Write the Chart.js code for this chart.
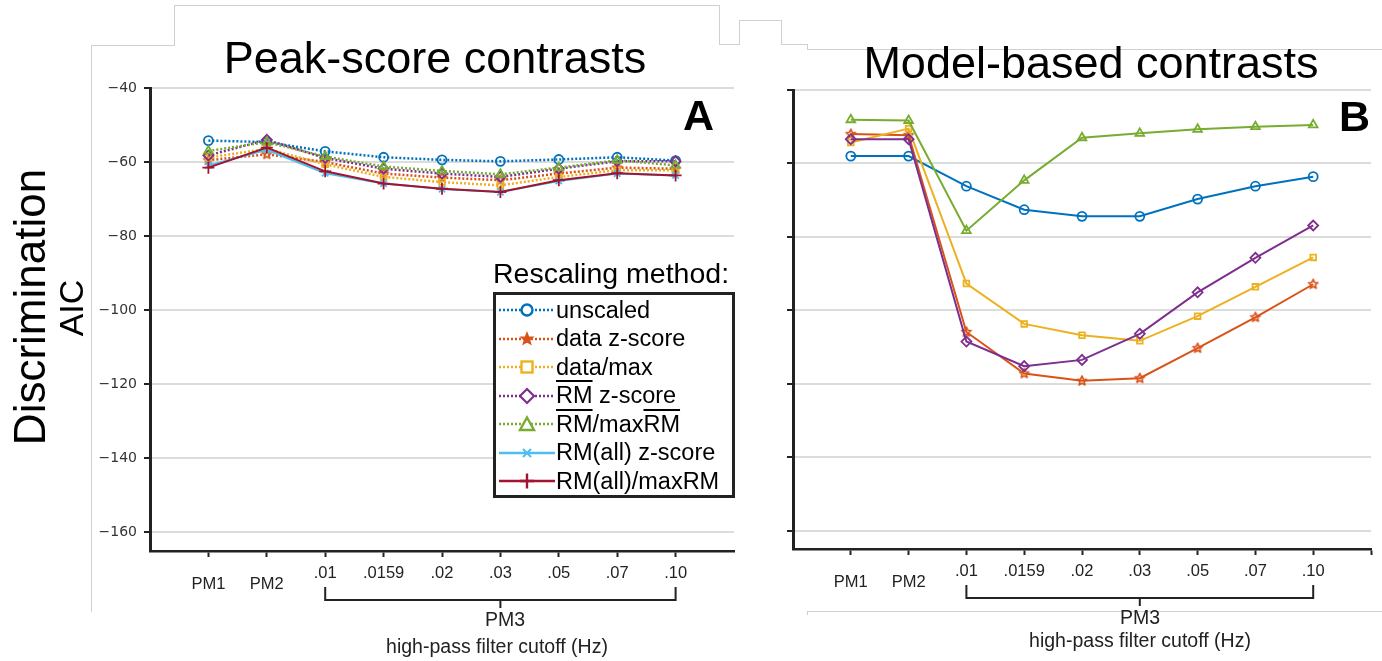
<!DOCTYPE html>
<html>
<head>
<meta charset="utf-8">
<script src="https://cdn.jsdelivr.net/npm/chart.js@4.4.1/dist/chart.umd.min.js"></script>
<style>
  body { margin: 0; background: #fff; width: 1382px; height: 661px; overflow: hidden; position: relative;
         font-family: "Liberation Sans", Arial, sans-serif; color: #000; }
  canvas { position: absolute; top: 0; }
  .ln { position: absolute; background: #d0d0d0; }
  .txt { position: absolute; white-space: nowrap; line-height: 1; }
  .ttl { font-size: 45px; transform: translateX(-50%); }
  .sub { font-size: 19.5px; color: #222; transform: translateX(-50%); text-align: center; }
  #legend { position: absolute; left: 493px; top: 292px; width: 236px; height: 200px; border: 3px solid #222; background: #fff; }
  .row { position: absolute; left: 2px; height: 26px; display: flex; align-items: center; font-size: 23.5px; }
  .row svg { margin-right: 0; }
  .ov { text-decoration: overline; text-decoration-thickness: 1.5px; }
</style>
</head>
<body>
<!-- faint frames left over from the slide -->
<div class="ln" style="left:91px;top:45px;width:1px;height:567px"></div>
<div class="ln" style="left:91px;top:45px;width:84px;height:1px"></div>
<div class="ln" style="left:174px;top:5px;width:1px;height:40px"></div>
<div class="ln" style="left:174px;top:5px;width:546px;height:1px"></div>
<div class="ln" style="left:719px;top:5px;width:1px;height:39px"></div>
<div class="ln" style="left:719px;top:44px;width:21px;height:1px"></div>
<div class="ln" style="left:739px;top:20px;width:1px;height:24px"></div>
<div class="ln" style="left:739px;top:20px;width:42px;height:1px"></div>
<div class="ln" style="left:781px;top:20px;width:1px;height:24px"></div>
<div class="ln" style="left:781px;top:44px;width:26px;height:1px"></div>
<div class="ln" style="left:807px;top:44px;width:1px;height:5px"></div>
<div class="ln" style="left:807px;top:49px;width:575px;height:1px"></div>
<div class="ln" style="left:807px;top:611px;width:575px;height:1px"></div>
<div class="ln" style="left:807px;top:611px;width:1px;height:4px"></div>

<canvas id="chartA" width="760" height="661" style="left:0"></canvas>
<canvas id="chartB" width="622" height="661" style="left:760px"></canvas>

<div class="txt ttl" style="left:435px;top:35px">Peak-score contrasts</div>
<div class="txt ttl" style="left:1091px;top:40px">Model-based contrasts</div>
<div class="txt" style="left:683px;top:94px;font-size:43px;font-weight:bold">A</div>
<div class="txt" style="left:1339px;top:95px;font-size:43px;font-weight:bold">B</div>

<div class="txt" style="left:30px;top:307px;font-size:44px;transform:translate(-50%,-50%) rotate(-90deg)">Discrimination</div>
<div class="txt" style="left:71px;top:308px;font-size:34px;transform:translate(-50%,-50%) rotate(-90deg)">AIC</div>

<div class="txt sub" style="left:505px;top:610px">PM3</div>
<div class="txt sub" style="left:497px;top:637px">high-pass filter cutoff (Hz)</div>
<div class="txt sub" style="left:1140px;top:608px">PM3</div>
<div class="txt sub" style="left:1140px;top:631px">high-pass filter cutoff (Hz)</div>

<div class="txt" style="left:493px;top:259px;font-size:28.5px">Rescaling method:</div>
<div id="legend"></div>

<script>
const categories = ['PM1', 'PM2', '.01', '.0159', '.02', '.03', '.05', '.07', '.10'];
const xPositions = [1, 2, 3, 4, 5, 6, 7, 8, 9];
const yTickValues = [-160, -140, -120, -100, -80, -60, -40];

const methodNames = ['unscaled', 'data z-score', 'data/max', 'RM z-score', 'RM/maxRM', 'RM(all) z-score', 'RM(all)/maxRM'];
const methodColors = ['#0072BD', '#D95319', '#EDB120', '#7E2F8E', '#77AC30', '#4DBEEE', '#A2142F'];

// panel A: peak-score contrasts
const unscaledA  = [-54.2, -54.6, -57.1, -58.7, -59.4, -59.8, -59.3, -58.7, -59.6];
const dataZA     = [-59.5, -57.9, -60.0, -63.1, -64.2, -64.9, -63.1, -61.5, -61.8];
const dataMaxA   = [-58.8, -56.4, -60.6, -64.0, -65.4, -66.3, -64.0, -62.2, -62.2];
const rmZA       = [-58.2, -54.0, -58.9, -61.8, -63.1, -64.0, -61.8, -59.8, -59.8];
const rmMaxA     = [-57.0, -54.6, -58.5, -61.2, -62.4, -63.3, -61.5, -59.5, -60.9];
const rmAllZA    = [-60.9, -56.7, -63.0, -65.8, -67.3, -68.1, -65.1, -63.1, -63.6];
const rmAllMaxA  = [-61.5, -56.1, -62.5, -65.8, -67.2, -68.1, -64.9, -63.0, -63.6];

// panel B: model-based contrasts
const unscaledB  = [-58.0, -58.0, -66.2, -72.6, -74.4, -74.4, -69.7, -66.2, -63.6];
const dataZB     = [-52.0, -52.3, -105.9, -117.2, -119.2, -118.5, -110.3, -101.9, -92.9];
const dataMaxB   = [-54.3, -50.5, -92.7, -103.7, -106.8, -108.3, -101.6, -93.6, -85.6];
const rmZB       = [-53.4, -53.4, -108.5, -115.2, -113.5, -106.4, -95.1, -85.7, -76.9];
const rmMaxB     = [-48.1, -48.3, -78.3, -64.6, -53.0, -51.8, -50.7, -50.0, -49.5];

// pentagram marker (Chart.js has no five-point star)
function pentagram(color, r) {
  const c = document.createElement('canvas');
  const s = Math.ceil(r * 2 + 4);
  c.width = s; c.height = s;
  const g = c.getContext('2d');
  g.strokeStyle = color; g.lineWidth = 1.6; g.lineJoin = 'round';
  g.beginPath();
  for (let i = 0; i < 10; i++) {
    const rr = i % 2 ? r * 0.45 : r;
    const a = -Math.PI / 2 + i * Math.PI / 5;
    const px = s / 2 + rr * Math.cos(a), py = s / 2 + rr * Math.sin(a);
    i ? g.lineTo(px, py) : g.moveTo(px, py);
  }
  g.closePath(); g.stroke();
  return c;
}

const markers = [
  { style: 'circle', r: 4.5 },
  { style: pentagram(methodColors[1], 5), r: 5 },
  { style: 'rect', r: 4 },
  { style: 'rectRot', r: 5 },
  { style: 'triangle', r: 5 },
  { style: 'crossRot', r: 4.5 },
  { style: 'cross', r: 6 }
];

function series(i, values, dotted) {
  return {
    label: methodNames[i],
    data: values.map((v, k) => ({ x: xPositions[k], y: v })),
    borderColor: methodColors[i],
    borderWidth: dotted ? 2.5 : 2,
    borderDash: dotted ? [2, 2] : [],
    pointStyle: markers[i].style,
    pointRadius: markers[i].r,
    pointBorderColor: methodColors[i],
    pointBackgroundColor: 'rgba(0,0,0,0)',
    pointBorderWidth: 1.8,
    tension: 0,
    order: 10 - i
  };
}

const bracket = {
  id: 'bracket',
  afterDraw(chart) {
    const g = chart.ctx, xs = chart.scales.x, b = chart.chartArea.bottom;
    const x1 = xs.getPixelForValue(3), x2 = xs.getPixelForValue(9), xm = xs.getPixelForValue(6);
    g.save();
    g.strokeStyle = '#222'; g.lineWidth = 2;
    g.beginPath();
    g.moveTo(x1, b + 36); g.lineTo(x1, b + 49); g.lineTo(x2, b + 49); g.lineTo(x2, b + 36);
    g.moveTo(xm, b + 49); g.lineTo(xm, b + 57);
    g.stroke();
    g.restore();
  }
};

function panel(id, datasets, p) {
  new Chart(document.getElementById(id), {
    type: 'line',
    data: { datasets },
    options: {
      responsive: false,
      animation: false,
      layout: { padding: { top: p.top, right: p.right, left: 0, bottom: 0 } },
      plugins: { legend: { display: false }, tooltip: { enabled: false } },
      scales: {
        x: {
          type: 'linear', min: 0, max: 10,
          afterFit: s => { s.height = p.xHeight; },
          afterBuildTicks: s => { s.ticks = [0, 1, 2, 3, 4, 5, 6, 7, 8, 9, 10].map(v => ({ value: v })); },
          ticks: {
            autoSkip: false, maxRotation: 0, padding: 7, color: '#222',
            callback: v => categories[v - 1] || '',
            font: c => ({ family: '"Liberation Sans", Arial, sans-serif', size: 16.5,
                          lineHeight: (c.tick && c.tick.value <= 2) ? 2.5 : 1.2 })
          },
          grid: {
            drawOnChartArea: false, drawTicks: true, tickLength: 6, tickWidth: 2,
            tickColor: c => (c.tick && c.tick.value >= 1 && c.tick.value <= p.lastTick) ? '#222' : 'rgba(0,0,0,0)'
          },
          border: { display: true, color: '#222', width: 2.5 }
        },
        y: {
          min: -165, max: -40,
          afterFit: s => { s.width = p.yWidth; },
          afterBuildTicks: s => { s.ticks = yTickValues.map(v => ({ value: v })); },
          ticks: {
            display: p.yLabels, padding: 7, color: '#333',
            font: { family: '"DejaVu Sans", sans-serif', size: 14 },
            callback: v => String(v).replace('-', '\u2212')
          },
          grid: { color: '#dcdcdc', lineWidth: 2, drawTicks: true, tickLength: 6, tickColor: '#222', tickWidth: 2 },
          border: { display: true, color: '#222', width: 3 }
        }
      }
    },
    plugins: [bracket]
  });
}

panel('chartA', [
  series(0, unscaledA, true), series(1, dataZA, true), series(2, dataMaxA, true),
  series(3, rmZA, true), series(4, rmMaxA, true), series(5, rmAllZA, false), series(6, rmAllMaxA, false)
], { top: 88, right: 26, yWidth: 150, xHeight: 110, yLabels: true, lastTick: 9 });

panel('chartB', [
  series(0, unscaledB, false), series(1, dataZB, false), series(2, dataMaxB, false),
  series(3, rmZB, false), series(4, rmMaxB, false)
], { top: 90, right: 11, yWidth: 33, xHeight: 112, yLabels: false, lastTick: 10 });

// legend (HTML, uses the same names / colours as the datasets)
const svgMarker = [
  c => `<circle cx="29" cy="11" r="5.5" fill="#fff" stroke="${c}" stroke-width="2.4"/>`,
  c => { let d = ''; for (let i = 0; i < 10; i++) { const r = i % 2 ? 2.6 : 6, a = -Math.PI / 2 + i * Math.PI / 5;
           d += (i ? 'L' : 'M') + (29 + r * Math.cos(a)).toFixed(2) + ' ' + (11 + r * Math.sin(a)).toFixed(2); }
         return `<path d="${d}Z" fill="${c}" stroke="${c}" stroke-width="1.5"/>`; },
  c => `<rect x="23.5" y="5.5" width="11" height="11" fill="#fff" stroke="${c}" stroke-width="2.4"/>`,
  c => `<path d="M29 4 L36 11 L29 18 L22 11 Z" fill="#fff" stroke="${c}" stroke-width="2.2"/>`,
  c => `<path d="M29 4.5 L36 17 L22 17 Z" fill="#fff" stroke="${c}" stroke-width="2.4"/>`,
  c => `<path d="M25 7 L33 15 M33 7 L25 15" stroke="${c}" stroke-width="2"/>`,
  c => `<path d="M29 3.5 L29 18.5 M22 11 L36 11" stroke="${c}" stroke-width="2.4"/>`
];
const legendHtml = [
  'unscaled', 'data z-score', 'data/max',
  '<span class="ov">RM</span>&nbsp;z-score', '<span class="ov">RM</span>/max<span class="ov">RM</span>',
  'RM(all) z-score', 'RM(all)/maxRM'
];
const leg = document.getElementById('legend');
methodColors.forEach((c, i) => {
  const dotted = i < 5;
  const row = document.createElement('div');
  row.className = 'row';
  row.style.top = (2 + i * 28.5) + 'px';
  row.innerHTML = `<svg width="58" height="22"><line x1="1" y1="11" x2="57" y2="11" stroke="${c}" stroke-width="2.5" ${dotted ? 'stroke-dasharray="2 2"' : ''}/>${svgMarker[i](c)}</svg><span>${legendHtml[i]}</span>`;
  leg.appendChild(row);
});
</script>
</body>
</html>
